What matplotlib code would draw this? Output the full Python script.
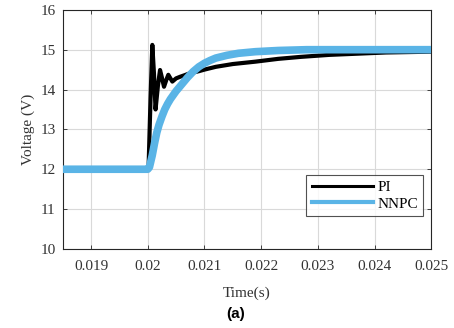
import matplotlib
matplotlib.use("Agg")
import matplotlib.pyplot as plt
from matplotlib.lines import Line2D

plt.rcParams['font.family'] = ['Liberation Serif', 'DejaVu Serif']

# PI response (time s, voltage V)
pi_t = [0.0185, 0.01999, 0.020014, 0.02005, 0.020081, 0.02011, 0.020138, 0.02018,
        0.020217, 0.02025, 0.020287, 0.02033, 0.020363, 0.0204, 0.020434, 0.0205,
        0.02057, 0.02065, 0.020746, 0.0209, 0.0210, 0.0212, 0.0215, 0.0219,
        0.0223, 0.0227, 0.0232, 0.0237, 0.0242, 0.025]
pi_v = [12.0, 12.0, 12.0, 13.8, 15.12, 14.4, 13.5, 14.1,
        14.49, 14.3, 14.07, 14.25, 14.37, 14.28, 14.2, 14.28,
        14.32, 14.36, 14.41, 14.46, 14.5, 14.57, 14.64, 14.70,
        14.77, 14.82, 14.87, 14.9, 14.93, 14.95]

# NNPC response
nn_t = [0.0185, 0.0200, 0.02003, 0.02008, 0.02012, 0.02016, 0.0202, 0.02025,
        0.0203, 0.02035, 0.0204, 0.0205, 0.0206, 0.0207, 0.0208, 0.0209,
        0.0210, 0.0211, 0.0212, 0.0214, 0.0216, 0.0219, 0.0223, 0.0228, 0.025]
nn_v = [12.0, 12.0, 12.05, 12.35, 12.65, 12.92, 13.12, 13.32,
        13.5, 13.64, 13.76, 13.96, 14.13, 14.3, 14.45, 14.57,
        14.66, 14.73, 14.79, 14.86, 14.91, 14.95, 14.98, 15.0, 15.0]

xticks = [0.019, 0.02, 0.021, 0.022, 0.023, 0.024, 0.025]
xticklabels = ['0.019', '0.02', '0.021', '0.022', '0.023', '0.024', '0.025']
yticks = [10, 11, 12, 13, 14, 15, 16]

blue = '#5AB4E6'

fig = plt.figure(figsize=(4.54, 3.28), dpi=100)
ax = fig.add_axes([0.138, 0.241, 0.812, 0.729])

ax.plot(pi_t, pi_v, color='black', lw=3.0, solid_joinstyle='round', zorder=3)
ax.plot(nn_t, nn_v, color=blue, lw=5.5, solid_capstyle='round', zorder=4)

ax.set_xlim(0.0185, 0.025)
ax.set_ylim(10, 16)
ax.set_xticks(xticks)
ax.set_xticklabels(xticklabels)
ax.set_yticks(yticks)
ax.grid(True, color='#d9d9d9', lw=0.8)
ax.set_axisbelow(True)
ax.tick_params(direction='in', length=3, width=0.6, labelsize=11, colors='#262626',
               top=True, right=True)
ax.tick_params(axis='x', pad=8)
ax.tick_params(axis='y', pad=5)
for lab in ax.get_xticklabels() + ax.get_yticklabels():
    lab.set_color('#333333')
for s in ax.spines.values():
    s.set_color('#262626')
    s.set_linewidth(0.8)

ax.set_ylabel('Voltage (V)', fontsize=11, color='#333333', labelpad=4)
ax.set_xlabel('Time(s)', fontsize=11, color='#333333', labelpad=10)

handles = [Line2D([], [], color='black', lw=2.2), Line2D([], [], color=blue, lw=3)]
leg = ax.legend(handles, ['PI', 'NNPC'], loc='lower right', bbox_to_anchor=(0.978, 0.138),
                fontsize=11, frameon=True, fancybox=False, handlelength=4.0,
                borderpad=0.35, labelspacing=0.2, handletextpad=0.3, borderaxespad=0)
leg.get_frame().set_edgecolor('#262626')
leg.get_frame().set_linewidth(0.8)

fig.text(0.518, 0.043, '(a)', ha='center', va='center', fontsize=11, fontweight='bold',
         family='Liberation Sans')

fig.savefig('out.png', dpi=100)
